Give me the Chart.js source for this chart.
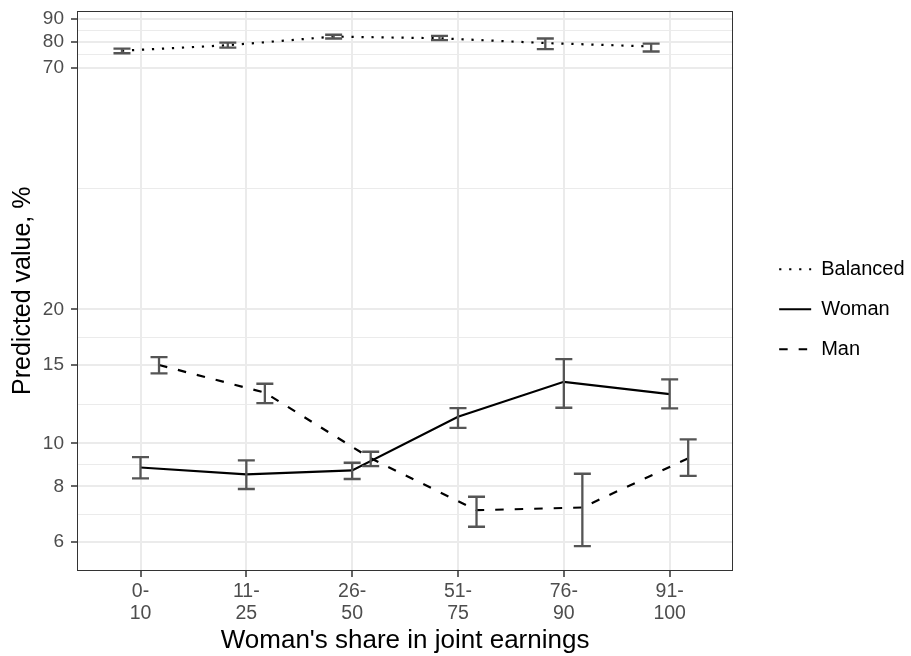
<!DOCTYPE html>
<html>
<head>
<meta charset="UTF-8">
<title>Predicted value by woman's share in joint earnings</title>
<script src="https://cdn.jsdelivr.net/npm/chart.js@4.4.1/dist/chart.umd.min.js"></script>
<style>
  html, body { margin: 0; padding: 0; background: #fff; }
  #wrap { width: 911px; height: 656px; position: relative; }
</style>
</head>
<body>
<div id="wrap"><canvas id="chart"></canvas></div>
<script>
const categories = ['0-10', '11-25', '26-50', '51-75', '76-90', '91-100'];

const balanced   = [76.4, 78.6, 82.2, 81.5, 79.5, 78.1];
const balancedLo = [75.4, 77.6, 81.4, 80.7, 77.0, 76.1];
const balancedHi = [77.2, 79.7, 83.0, 82.5, 81.4, 79.3];

const woman   = [8.82, 8.51, 8.69, 11.47, 13.75, 12.90];
const womanLo = [8.34, 7.89, 8.31, 10.83, 12.02, 11.98];
const womanHi = [9.31, 9.15, 9.04, 12.00, 15.47, 13.92];

const man   = [15.0, 13.0, 9.25, 7.07, 7.17, 9.25];
const manLo = [14.36, 12.31, 8.88, 6.49, 5.87, 8.45];
const manHi = [15.63, 13.61, 9.57, 7.58, 8.54, 10.2];

const yTicks = [6, 8, 10, 15, 20, 70, 80, 90];
// minor grid sits halfway between majors on the log scale (like ggplot)
const yMinor = yTicks.slice(1).map((v, i) => Math.sqrt(v * yTicks[i]));
const xTickLines = categories.map(c => { const p = c.split('-'); return [p[0] + '-', p[1]]; });

const FONT = "'Liberation Sans', Arial, Helvetica, sans-serif";
Chart.defaults.font.family = FONT;

const dodge = { Balanced: -0.175, Woman: 0, Man: 0.175 };
function points(vals, off) { return vals.map((v, i) => ({ x: i + off, y: v })); }

const errorBars = {
  id: 'errorBars',
  afterDatasetsDraw(chart) {
    const { ctx, scales: { x, y } } = chart;
    ctx.save();
    ctx.strokeStyle = '#555555';
    ctx.lineWidth = 2.3;
    chart.data.datasets.forEach(ds => {
      ds.data.forEach((p, i) => {
        const px = x.getPixelForValue(p.x);
        const top = y.getPixelForValue(ds.hi[i]);
        const bot = y.getPixelForValue(ds.lo[i]);
        ctx.beginPath();
        ctx.moveTo(px, top); ctx.lineTo(px, bot);
        ctx.moveTo(px - 8.5, top); ctx.lineTo(px + 8.5, top);
        ctx.moveTo(px - 8.5, bot); ctx.lineTo(px + 8.5, bot);
        ctx.stroke();
      });
    });
    ctx.restore();
  }
};

const panelBorder = {
  id: 'panelBorder',
  afterDraw(chart) {
    const { ctx, chartArea: a } = chart;
    ctx.save();
    ctx.strokeStyle = '#333333';
    ctx.lineWidth = 1;
    const l = Math.round(a.left), t = Math.round(a.top);
    ctx.strokeRect(l + 0.5, t + 0.5, Math.round(a.right) - l - 1, Math.round(a.bottom) - t - 1);
    ctx.restore();
  }
};

new Chart(document.getElementById('chart'), {
  type: 'line',
  data: {
    datasets: [
      { label: 'Balanced', data: points(balanced, dodge.Balanced), lo: balancedLo, hi: balancedHi,
        borderColor: '#000', borderWidth: 2.2, borderDash: [2.2, 7.8] },
      { label: 'Woman', data: points(woman, dodge.Woman), lo: womanLo, hi: womanHi,
        borderColor: '#000', borderWidth: 2.2 },
      { label: 'Man', data: points(man, dodge.Man), lo: manLo, hi: manHi,
        borderColor: '#000', borderWidth: 2.2, borderDash: [8.5, 11] }
    ]
  },
  options: {
    responsive: true,
    maintainAspectRatio: false,
    animation: false,
    layout: { padding: { top: 10.5, right: 0, bottom: 0, left: 0 } },
    elements: { point: { radius: 0, hoverRadius: 0 }, line: { tension: 0 } },
    plugins: {
      tooltip: { enabled: false },
      legend: {
        position: 'right',
        fullSize: false,
        title: { display: true, text: '', font: { size: 10, lineHeight: 1 }, padding: { top: 27, bottom: 0 } },
        labels: {
          usePointStyle: true,
          pointStyleWidth: 32,
          padding: 20,
          color: '#000',
          font: { family: FONT, size: 20 },
          generateLabels: chart => chart.data.datasets.map((ds, i) => ({
            text: ds.label, strokeStyle: '#000', fillStyle: '#000', fontColor: '#000',
            lineWidth: 2.2, lineDash: ds.borderDash || [], pointStyle: 'line',
            hidden: false, datasetIndex: i
          }))
        }
      }
    },
    scales: {
      x: {
        type: 'linear', min: -0.6, max: 5.6,
        afterBuildTicks: s => { s.ticks = categories.map((c, i) => ({ value: i })); },
        afterFit: s => { s.height = 85; s.paddingLeft = 0; s.paddingRight = 0; },
        grid: { color: '#EBEBEB', lineWidth: 2, tickColor: '#333333', tickLength: 6, tickWidth: 1.5 },
        border: { display: false },
        ticks: {
          autoSkip: false, maxRotation: 0, padding: 3.5, color: '#4D4D4D',
          font: { size: 19.5, lineHeight: 1.12 },
          callback: v => xTickLines[v]
        },
        title: { display: true, text: "Woman's share in joint earnings", color: '#000',
                 font: { size: 26, lineHeight: 1.2 }, padding: { top: 0, bottom: 0 } }
      },
      y: {
        type: 'logarithmic', min: 5.16, max: 94.1,
        afterBuildTicks: s => {
          s.ticks = yTicks.map(v => ({ value: v }))
            .concat(yMinor.map(v => ({ value: v, minor: true })))
            .sort((a, b) => a.value - b.value);
        },
        afterFit: s => { s.width = 77; s.paddingTop = 0; s.paddingBottom = 0; },
        grid: {
          color: '#EBEBEB',
          lineWidth: c => (c.tick && c.tick.minor ? 1 : 2),
          tickColor: c => (c.tick && c.tick.minor ? 'rgba(0,0,0,0)' : '#333333'),
          tickLength: 6, tickWidth: 1.5
        },
        border: { display: false },
        ticks: {
          autoSkip: false, padding: 7, color: '#4D4D4D', font: { size: 19 },
          callback: (v, i, ticks) => (ticks[i].minor ? '' : String(v))
        },
        title: { display: true, text: 'Predicted value, %', color: '#000',
                 font: { size: 25, lineHeight: 1.2 }, padding: { top: 8, bottom: 0 } }
      },
      spacer: {
        type: 'linear', position: 'right', display: true,
        grid: { display: false }, border: { display: false }, ticks: { display: false },
        afterFit: s => { s.width = 26; s.paddingTop = 0; s.paddingBottom = 0; }
      }
    }
  },
  plugins: [errorBars, panelBorder]
});
</script>
</body>
</html>
